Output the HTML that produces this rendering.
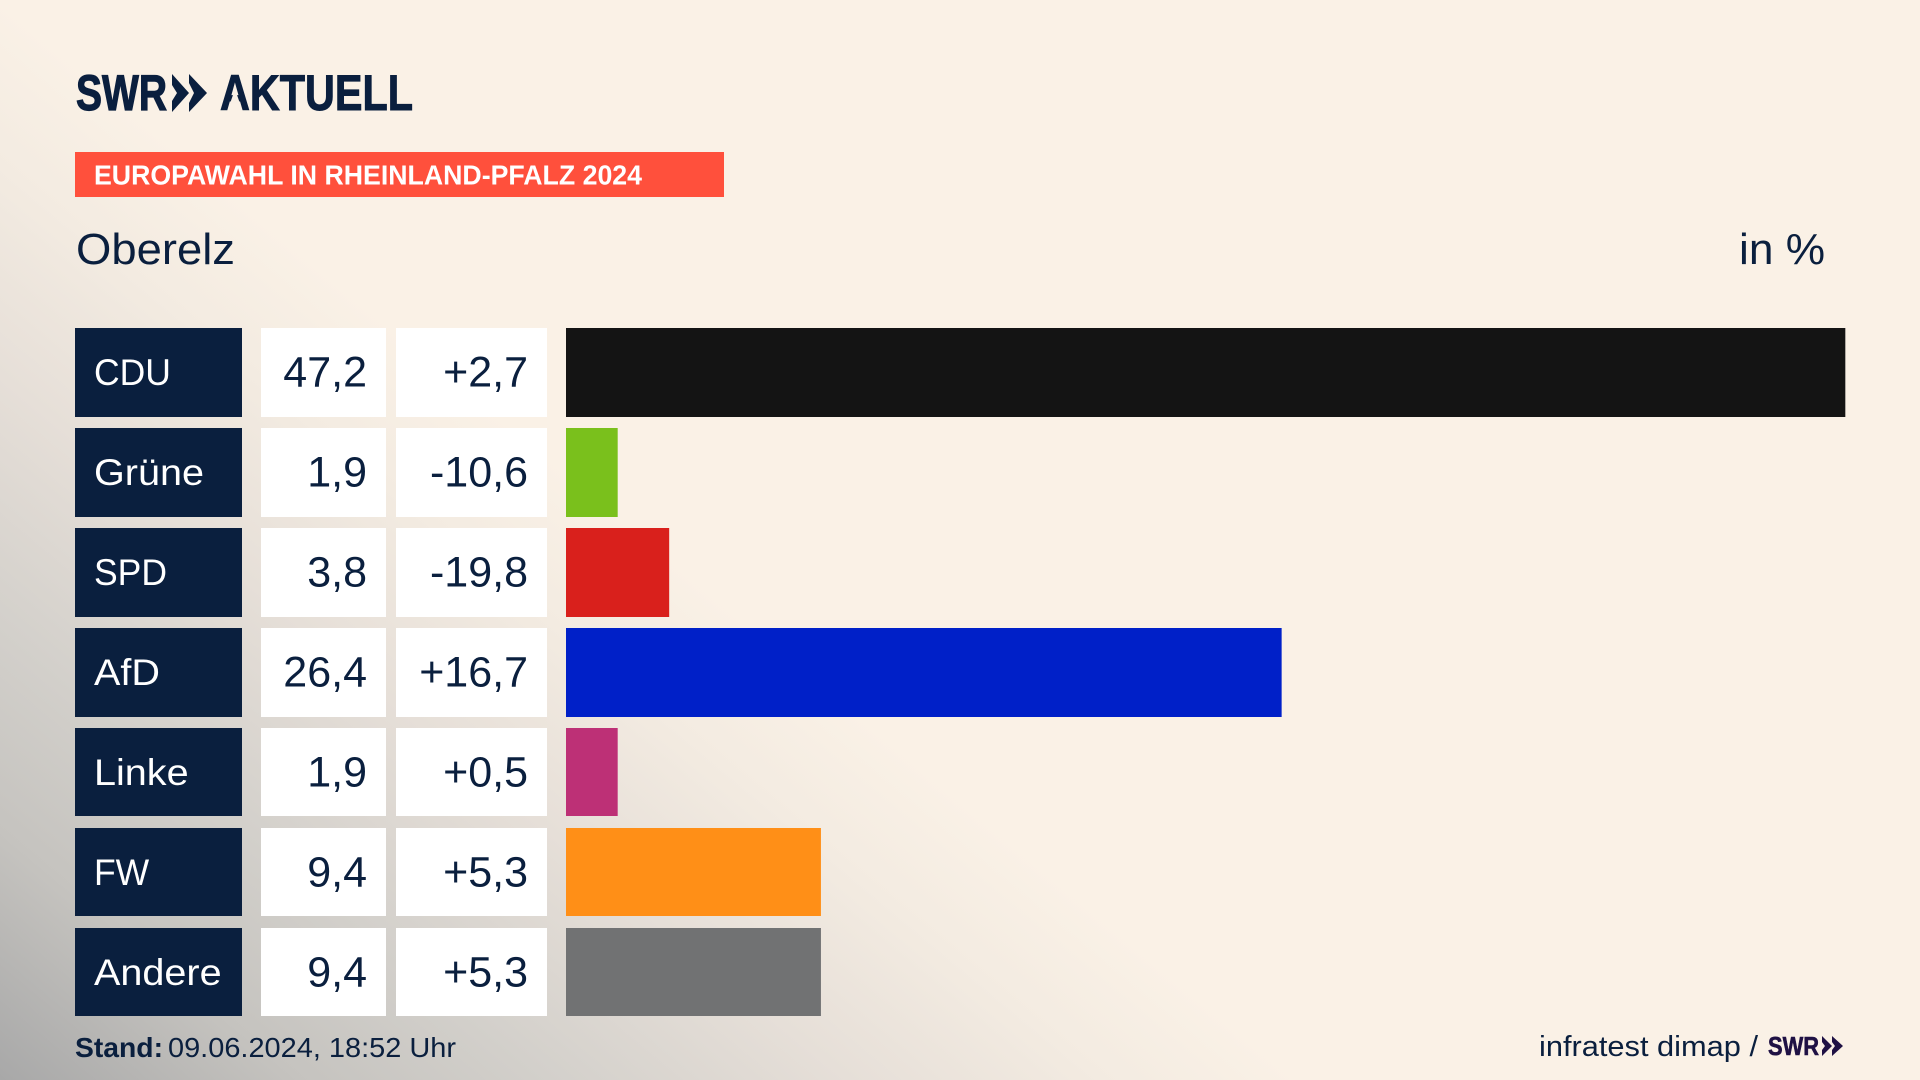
<!DOCTYPE html>
<html lang="de">
<head>
<meta charset="utf-8">
<title>Europawahl in Rheinland-Pfalz 2024 – Oberelz</title>
<style>
html,body{margin:0;padding:0;width:1920px;height:1080px;overflow:hidden;background:#faf1e6}
#stage{position:absolute;left:0;top:0;width:1920px;height:1080px;
background:linear-gradient(219.7deg,#faf1e6 0%,#faf1e6 59.6%,#f3ebe1 65.8%,#e6dfd8 73.6%,#d3d0cb 82.9%,#c5c3bf 90.7%,#a8a8a8 100%)}
svg{position:absolute;left:0;top:0}
text{font-family:"Liberation Sans",sans-serif;fill:#0a1f3e}
</style>
</head>
<body>
<div id="stage">
<svg id="chart" width="1920" height="1080" viewBox="0 0 1920 1080">
  <g>
    <text x="76" y="110" font-size="50" font-weight="700" stroke="#0a1f3e" stroke-width="1.2" textLength="91" lengthAdjust="spacingAndGlyphs">SWR</text>
    <polygon points="172,74 189,93 172,112 172,101 177,93 172,85" fill="#0a1f3e"/>
    <polygon points="189,74 207,93 189,112 189,103 194,93 189,83" fill="#0a1f3e"/>
    <text x="220" y="110" font-size="50" font-weight="700" stroke="#0a1f3e" stroke-width="1" textLength="193" lengthAdjust="spacingAndGlyphs">AKTUELL</text>
    <polygon points="233.5,93.5 236.5,93.5 240,103.5 230,103.5" fill="#f9f0e5"/>
  </g>
  <rect x="75" y="152" width="649" height="45" fill="#ff503c"/>
  <text x="94" y="184.5" font-size="27.5" font-weight="700" style="fill:#fff" textLength="548" lengthAdjust="spacingAndGlyphs">EUROPAWAHL IN RHEINLAND-PFALZ 2024</text>
  <text x="76" y="264" font-size="44" textLength="159" lengthAdjust="spacingAndGlyphs">Oberelz</text>
  <text x="1739" y="264" font-size="44" textLength="86" lengthAdjust="spacingAndGlyphs">in %</text>
  <g id="rows"></g>
  <text x="75" y="1057" font-size="28" font-weight="700" textLength="88" lengthAdjust="spacingAndGlyphs">Stand:</text>
  <text x="168" y="1057" font-size="28" textLength="288" lengthAdjust="spacingAndGlyphs">09.06.2024, 18:52 Uhr</text>
  <text x="1539" y="1056" font-size="28.5" textLength="219" lengthAdjust="spacingAndGlyphs">infratest dimap /</text>
  <g>
    <text x="1768" y="1055" font-size="26" font-weight="700" stroke="#1f1144" stroke-width="0.6" style="fill:#1f1144" textLength="51" lengthAdjust="spacingAndGlyphs">SWR</text>
    <polygon points="1822,1036 1832,1046 1822,1056 1822,1050 1825,1046 1822,1042" fill="#1f1144"/>
    <polygon points="1832,1036 1843,1046 1832,1056 1832,1050 1835,1046 1832,1042" fill="#1f1144"/>
  </g>
</svg>
</div>
<script>
const parties = ["CDU","Grüne","SPD","AfD","Linke","FW","Andere"];
const shares = [47.2,1.9,3.8,26.4,1.9,9.4,9.4];
const changes = [2.7,-10.6,-19.8,16.7,0.5,5.3,5.3];
const partyColors = ["#141414","#7ac01c","#d9201c","#0020c8","#bd3076","#ff8f17","#717273"];

const NS = "http://www.w3.org/2000/svg";
const rowsGroup = document.getElementById("rows");
const BAR_LEFT = 566, PX_PER_POINT = 27.1, BAR_PAD = 0.2;
const ROW_TOP = 328, ROW_PITCH = 100;
function xScale(v){ return BAR_PAD + v * PX_PER_POINT; }
function yScale(i){ return ROW_TOP + i * ROW_PITCH; }
function rowHeight(i){ return i < 4 ? 89 : 88; }
function fmtShare(v){ return v.toFixed(1).replace(".", ","); }
function fmtChange(v){ return (v > 0 ? "+" : "") + v.toFixed(1).replace(".", ","); }
function addRect(x, y, w, h, fill){
  const r = document.createElementNS(NS, "rect");
  r.setAttribute("x", x); r.setAttribute("y", y);
  r.setAttribute("width", w); r.setAttribute("height", h);
  r.setAttribute("fill", fill);
  rowsGroup.appendChild(r);
  return r;
}
function addText(x, y, str, anchor, fill, size, sx){
  const t = document.createElementNS(NS, "text");
  t.setAttribute("transform", "translate(" + x + "," + y + ") scale(" + sx + ",1)");
  t.setAttribute("font-size", size);
  t.setAttribute("text-anchor", anchor);
  t.style.fill = fill;
  t.textContent = str;
  rowsGroup.appendChild(t);
  return t;
}
parties.forEach(function(name, i){
  const y = yScale(i), h = rowHeight(i);
  const slug = name.toLowerCase().replace("ü", "ue");
  const nameScale = name === name.toUpperCase() ? 0.96 : 1.07;

  const labelBox = addRect(75, y, 167, h, "#0a1f3e");
  
  
  const label = addText(94, y + 57, name, "start", "#fff", 37, nameScale);
  
  

  const shareBox = addRect(261, y, 125, h, "#fff");
  
  
  const share = addText(367, y + 58.5, fmtShare(shares[i]), "end", "#0a1f3e", 43, 1);
  
  

  const changeBox = addRect(396, y, 151, h, "#fff");
  
  
  const change = addText(528, y + 58.5, fmtChange(changes[i]), "end", "#0a1f3e", 43, 1);
  
  

  const bar = addRect(BAR_LEFT, y, xScale(shares[i]), h, partyColors[i]);
  
  
});
</script>
</body>
</html>
